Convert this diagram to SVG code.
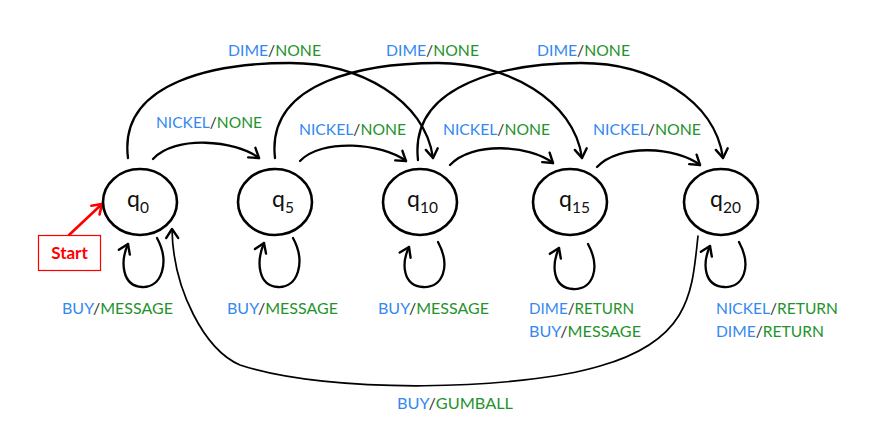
<svg xmlns="http://www.w3.org/2000/svg" width="891" height="425" viewBox="0 0 891 425">
<style>
.node{fill:#fff;stroke:#000;stroke-width:2.6}
.edge{fill:none;stroke:#000;stroke-width:2.3;stroke-linecap:round}
.thin{fill:none;stroke:#000;stroke-width:1.7;stroke-linecap:round}
.lbl{font-family:Lato,"Open Sans","Liberation Sans",sans-serif;font-size:15.5px}
.b{fill:#3388f2}
.g{fill:#24932c}
.s{fill:#333}
.q{font-family:Lato,"Open Sans","Liberation Sans",sans-serif;font-size:23px;font-weight:400;fill:#111}
.sub{font-size:15.5px}
</style>
<defs>
<marker id="ah" markerUnits="userSpaceOnUse" markerWidth="20" markerHeight="20" viewBox="-12 -10 14 20" refX="0" refY="0" orient="auto">
<path d="M-9,-6 L0,0 L-9,6" fill="none" stroke="#000" stroke-width="2.4" stroke-linecap="round" stroke-linejoin="round"/>
</marker>
<marker id="ahr" markerUnits="userSpaceOnUse" markerWidth="20" markerHeight="20" viewBox="-12 -10 14 20" refX="0" refY="0" orient="auto">
<path d="M-9,-6 L0,0 L-9,6" fill="none" stroke="#f00" stroke-width="2.6" stroke-linecap="round" stroke-linejoin="round"/>
</marker>
</defs>
<rect width="891" height="425" fill="#fff"/>

<g id="connectors">
<path class="edge" marker-end="url(#ah)" d="M153,159 C175,135 235,140 259,158"/>
<path class="edge" marker-end="url(#ah)" d="M300,161 C322,138 382,143 406,161"/>
<path class="edge" marker-end="url(#ah)" d="M450,165 C472,141 530,145 553,163"/>
<path class="edge" marker-end="url(#ah)" d="M597,167 C619,143 677,147 700,165"/>
<path class="edge" marker-end="url(#ah)" d="M128,158 C118,80 220,63 290,63 C360,63 425,100 433,158"/>
<path class="edge" marker-end="url(#ah)" d="M275,158 C266,80 368,63 438,63 C508,63 574,100 582,158"/>
<path class="edge" marker-end="url(#ah)" d="M418,160 C409,82 511,63 581,63 C651,63 715,100 723,158"/>
<path class="edge" marker-end="url(#ah)" d="M157,238 C170,262 162,288 142,287 C122,286 120,262 128,244"/>
<path class="edge" marker-end="url(#ah)" d="M293,238 C306,262 298,288 278,287 C258,286 256,262 264,243"/>
<path class="edge" marker-end="url(#ah)" d="M438,242 C451,266 443,288 423,287 C403,286 401,264 409,247"/>
<path class="edge" marker-end="url(#ah)" d="M588,244 C601,268 593,290 573,289 C553,288 551,266 559,248"/>
<path class="edge" marker-end="url(#ah)" d="M739,242 C752,266 744,288 724,287 C704,286 702,264 710,246"/>
<path class="thin" marker-end="url(#ah)" d="M698,236 C692,290 692,340 600,366 C520,390 330,395 240,365 C205,350 173,290 172,229"/>
<path d="M69,235 L102,204" fill="none" stroke="#f00" stroke-width="2.6" stroke-linecap="round" marker-end="url(#ahr)"/>
</g>

<g id="start">
<rect x="38.5" y="235.5" width="62" height="35" fill="#fff" stroke="#f00" stroke-width="1.2"/>
<text x="69.5" y="259" text-anchor="middle" font-family="Lato,'Liberation Sans',sans-serif" font-weight="bold" font-size="17" fill="#f00">Start</text>
</g>

<g id="q0">
<ellipse class="node" cx="140" cy="202" rx="37" ry="33"/>
<text class="q" x="127" y="207">q<tspan class="sub" y="213">0</tspan></text>
</g>
<g id="q5">
<ellipse class="node" cx="275" cy="202" rx="37" ry="33"/>
<text class="q" x="272" y="207">q<tspan class="sub" y="213">5</tspan></text>
</g>
<g id="q10">
<ellipse class="node" cx="420" cy="202" rx="37" ry="33"/>
<text class="q" x="407" y="207">q<tspan class="sub" y="213">10</tspan></text>
</g>
<g id="q15">
<ellipse class="node" cx="570" cy="202" rx="37" ry="33"/>
<text class="q" x="559" y="207">q<tspan class="sub" y="213">15</tspan></text>
</g>
<g id="q20">
<ellipse class="node" cx="721" cy="202" rx="37" ry="33"/>
<text class="q" x="710" y="207">q<tspan class="sub" y="213">20</tspan></text>
</g>

<g id="labels">
<text class="lbl" x="228" y="56" textLength="93" lengthAdjust="spacingAndGlyphs"><tspan class="b">DIME</tspan><tspan class="s">/</tspan><tspan class="g">NONE</tspan></text>
<text class="lbl" x="386" y="56" textLength="93" lengthAdjust="spacingAndGlyphs"><tspan class="b">DIME</tspan><tspan class="s">/</tspan><tspan class="g">NONE</tspan></text>
<text class="lbl" x="537" y="56" textLength="93" lengthAdjust="spacingAndGlyphs"><tspan class="b">DIME</tspan><tspan class="s">/</tspan><tspan class="g">NONE</tspan></text>

<text class="lbl" x="156" y="128" textLength="106" lengthAdjust="spacingAndGlyphs"><tspan class="b">NICKEL</tspan><tspan class="s">/</tspan><tspan class="g">NONE</tspan></text>
<text class="lbl" x="299" y="135" textLength="107" lengthAdjust="spacingAndGlyphs"><tspan class="b">NICKEL</tspan><tspan class="s">/</tspan><tspan class="g">NONE</tspan></text>
<text class="lbl" x="443" y="135" textLength="107" lengthAdjust="spacingAndGlyphs"><tspan class="b">NICKEL</tspan><tspan class="s">/</tspan><tspan class="g">NONE</tspan></text>
<text class="lbl" x="593" y="135" textLength="108" lengthAdjust="spacingAndGlyphs"><tspan class="b">NICKEL</tspan><tspan class="s">/</tspan><tspan class="g">NONE</tspan></text>

<text class="lbl" x="62" y="314" textLength="111" lengthAdjust="spacingAndGlyphs"><tspan class="b">BUY</tspan><tspan class="s">/</tspan><tspan class="g">MESSAGE</tspan></text>
<text class="lbl" x="227" y="314" textLength="111" lengthAdjust="spacingAndGlyphs"><tspan class="b">BUY</tspan><tspan class="s">/</tspan><tspan class="g">MESSAGE</tspan></text>
<text class="lbl" x="378" y="314" textLength="111" lengthAdjust="spacingAndGlyphs"><tspan class="b">BUY</tspan><tspan class="s">/</tspan><tspan class="g">MESSAGE</tspan></text>

<text class="lbl" x="529" y="314" textLength="105" lengthAdjust="spacingAndGlyphs"><tspan class="b">DIME</tspan><tspan class="s">/</tspan><tspan class="g">RETURN</tspan></text>
<text class="lbl" x="529" y="337" textLength="112" lengthAdjust="spacingAndGlyphs"><tspan class="b">BUY</tspan><tspan class="s">/</tspan><tspan class="g">MESSAGE</tspan></text>

<text class="lbl" x="716" y="314" textLength="122" lengthAdjust="spacingAndGlyphs"><tspan class="b">NICKEL</tspan><tspan class="s">/</tspan><tspan class="g">RETURN</tspan></text>
<text class="lbl" x="716" y="337" textLength="108" lengthAdjust="spacingAndGlyphs"><tspan class="b">DIME</tspan><tspan class="s">/</tspan><tspan class="g">RETURN</tspan></text>

<text class="lbl" x="397" y="409" textLength="116" lengthAdjust="spacingAndGlyphs"><tspan class="b">BUY</tspan><tspan class="s">/</tspan><tspan class="g">GUMBALL</tspan></text>
</g>
</svg>
